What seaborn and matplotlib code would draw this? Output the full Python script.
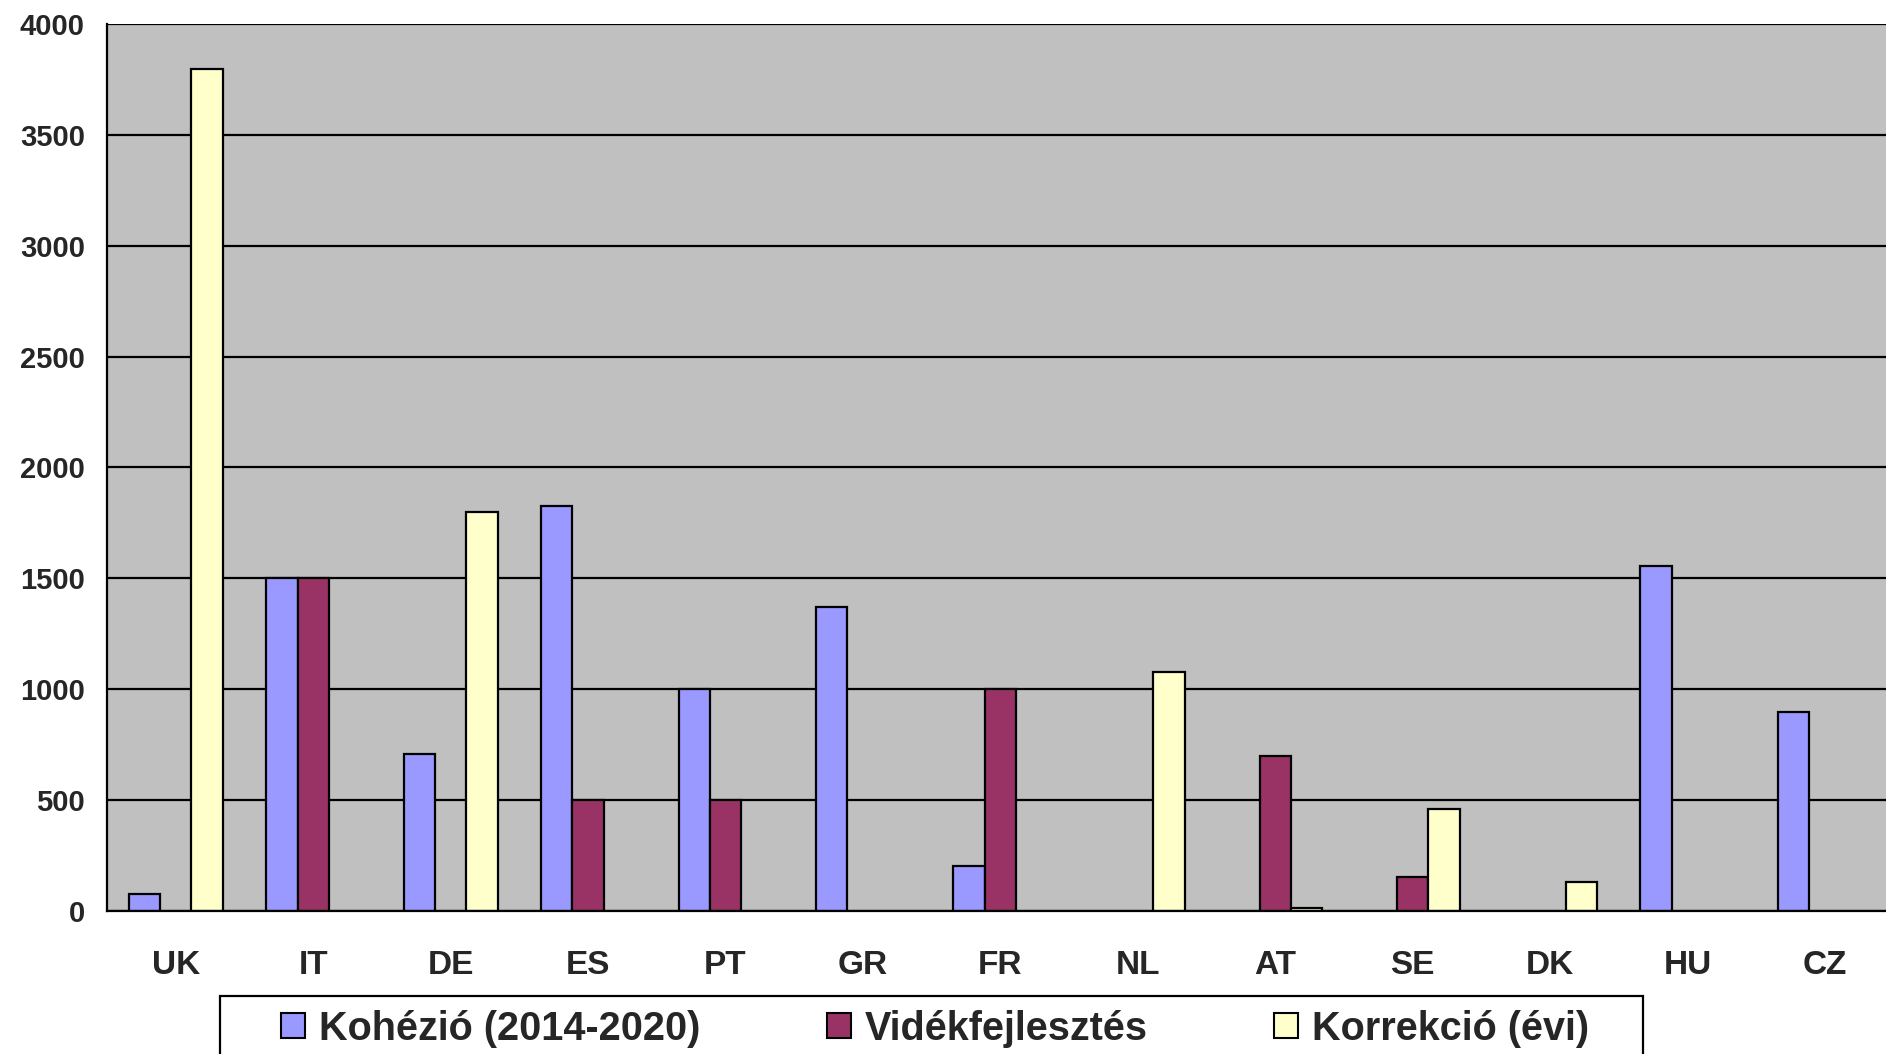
import numpy as np
import pandas as pd
import matplotlib
matplotlib.use("Agg")
import matplotlib.pyplot as plt
import seaborn as sns
from matplotlib.patches import Patch, Rectangle

# -----------------------------
# Data
# -----------------------------
countries = ["UK", "IT", "DE", "ES", "PT", "GR", "FR", "NL", "AT", "SE", "DK", "HU", "CZ"]
kohezio = [75, 1500, 705, 1825, 1000, 1370, 200, np.nan, np.nan, np.nan, np.nan, 1555, 895]
videkfejlesztes = [np.nan, 1500, np.nan, 500, 500, np.nan, 1000, np.nan, 700, 150, np.nan, np.nan, np.nan]
korrekcio = [3800, np.nan, 1800, np.nan, np.nan, np.nan, np.nan, 1075, 10, 460, 130, np.nan, np.nan]
series_names = ["Kohézió (2014-2020)", "Vidékfejlesztés", "Korrekció (évi)"]
colors = ["#9999FF", "#993366", "#FFFFCC"]

df = pd.DataFrame({
    "country": countries * 3,
    "series": [series_names[0]] * 13 + [series_names[1]] * 13 + [series_names[2]] * 13,
    "value": kohezio + videkfejlesztes + korrekcio,
})

sns.set_style("white")
plt.rcParams["font.family"] = ["Liberation Sans", "DejaVu Sans"]
plt.rcParams["font.weight"] = "bold"

fig = plt.figure(figsize=(18.86, 10.54), dpi=100)
ax = fig.add_axes([0.0568, 0.136, 1.004 - 0.0568, 0.977 - 0.136])
ax.set_facecolor("#C0C0C0")

sns.barplot(data=df, x="country", y="value", hue="series", hue_order=series_names,
            palette=colors, saturation=1, width=0.684, edgecolor="black", linewidth=1.6,
            legend=False, ax=ax, zorder=3)

ax.set_ylim(0, 4000)
ax.set_xlim(-0.5, len(countries) - 0.5)
ax.set_yticks(range(0, 4001, 500))
ax.yaxis.grid(True, color="black", linewidth=1.6, zorder=0)
ax.set_axisbelow(True)
ax.set_xlabel("")
ax.set_ylabel("")

for side in ["top", "right"]:
    ax.spines[side].set_visible(False)
for side in ["left", "bottom"]:
    ax.spines[side].set_color("black")
    ax.spines[side].set_linewidth(1.6)
    ax.spines[side].set_zorder(5)

# category boundary ticks, labels centred without tick marks
ax.set_xticks(np.arange(-0.5, len(countries), 1.0), minor=True)
ax.tick_params(axis="x", which="minor", length=10, width=1.4, color="black", direction="out")
ax.tick_params(axis="x", which="major", length=0, pad=28, labelsize=24)
ax.tick_params(axis="y", length=8, width=1.4, color="black", direction="out", pad=8, labelsize=21)
for lab in ax.get_xticklabels() + ax.get_yticklabels():
    lab.set_fontweight("bold")

# legend box (runs off the bottom edge like the original)
box = Rectangle((183 / 1568, -0.05), (1366 - 183) / 1568, 0.05 + 1 - 828 / 876,
                transform=fig.transFigure, facecolor="white", edgecolor="black",
                linewidth=1.6, zorder=1)
fig.patches.append(box)

handles = [Patch(facecolor=c, edgecolor="black", linewidth=1.5) for c in colors]
leg = fig.legend(handles, series_names, ncol=3, loc="center left",
                 bbox_to_anchor=(234 / 1568, 1 - 855 / 876), frameon=False,
                 borderpad=0, borderaxespad=0, handlelength=0.6, handleheight=0.6,
                 handletextpad=0.35, columnspacing=3.2,
                 prop={"size": 28.5, "weight": "bold"})

fig.savefig("out.png", dpi=100)
